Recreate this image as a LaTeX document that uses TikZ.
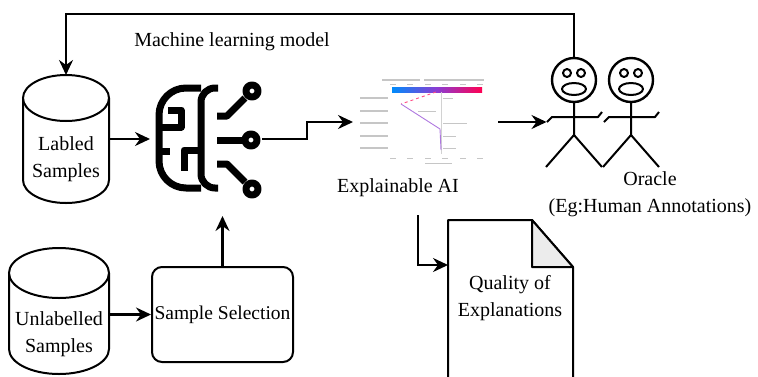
\documentclass[tikz,border=0pt]{standalone}
\usepackage{fontspec}
\setmainfont{Liberation Serif}
\usetikzlibrary{arrows.meta}

\definecolor{shapblue}{RGB}{0,139,251}
\definecolor{shappurple}{RGB}{140,60,210}
\definecolor{shapred}{RGB}{255,0,82}

\begin{document}
\begin{tikzpicture}[x=1pt,y=1pt,
        flow/.style={line width=2.2pt,-{Stealth[length=15pt,width=14pt,inset=5pt]}},
        area/.style={inner sep=0pt,outer sep=0pt},
        txt/.style={align=center,inner sep=0pt,font=\fontsize{20}{27}\selectfont},
        db/.style={line width=2pt,fill=white},
        stick/.style={line width=2pt,line join=round},
        synapse/.style={line width=7pt,line join=round},
        ghost/.style={gray!45,line width=1.3pt}]
    \useasboundingbox (0,0) rectangle (758,-376);

    % labelled data store
    \node[area,minimum width=86pt,minimum height=128pt] (labeled) at (66,-139) {};
    \draw[db] (23,-98) -- (23,-180) arc[start angle=180,end angle=360,x radius=43,y radius=23] -- (109,-98);
    \draw[db] (66,-98) ellipse [x radius=43,y radius=23];
    \node[txt] (labtext) at (66,-159) {Labled\\Samples};

    % unlabelled data store
    \node[area,minimum width=100pt,minimum height=126pt] (unlabeled) at (59,-311) {};
    \draw[db] (9,-273) -- (9,-349) arc[start angle=180,end angle=360,x radius=50,y radius=25] -- (109,-273);
    \draw[db] (59,-273) ellipse [x radius=50,y radius=25];
    \node[txt] (unlabtext) at (59,-334) {Unlabelled\\Samples};

    \node[draw,line width=2pt,rounded corners=10pt,minimum width=141pt,minimum height=95pt,
        txt,font=\fontsize{19.5}{27}\selectfont] (select) at (222.5,-314.5) {Sample Selection};

    % model icon
    \node[area,minimum width=112pt,minimum height=132pt] (model) at (206,-150) {};
    \draw[synapse,rounded corners=27pt] (201,-88) -- (159,-88) -- (159,-188) -- (201,-188);
    \draw[synapse,rounded corners=14pt] (218,-88) -- (201,-88) -- (201,-188) -- (218,-188);
    \draw[synapse] (168,-110) -- (181,-110) -- (181,-127) -- (159,-127);
    \draw[synapse] (159,-151) -- (170,-151);
    \draw[synapse] (201,-150) -- (184,-150) -- (184,-171);
    \draw[synapse] (217,-116) -- (227,-116) -- (245,-98);
    \draw[synapse] (252,-91) circle (6);
    \draw[synapse] (217,-140) -- (244,-140);
    \draw[synapse] (251,-140) circle (6);
    \draw[synapse] (217,-164) -- (227,-164) -- (245,-182);
    \draw[synapse] (252,-189) circle (6);
    \node[txt] (mllabel) at (232,-42) {Machine learning model};

    % explanation plot
    \node[area,minimum width=145pt,minimum height=88pt] (xai) at (425.5,-122) {};
    \draw[ghost] (382,-80) -- (420,-80) (424,-80) -- (484,-80);
    \foreach \tx in {393,410,428,445,463,480}
        \draw[ghost,line width=1pt] (\tx-3,-84) -- (\tx+3,-84) (\tx-3,-158) -- (\tx+3,-158);
    \shade[left color=shapblue,right color=shapred,middle color=shappurple] (392,-87) rectangle (482,-92);
    \draw[gray!35,line width=0.6pt] (441,-92) -- (441,-154);
    \foreach \fy/\va/\vb in {98/443/453,111/418/436,123/443/467,136/443/456,148/443/456} {
        \draw[ghost] (360,-\fy) -- (388,-\fy);
        \draw[ghost,line width=1pt] (\va,-\fy) -- (\vb,-\fy);
    }
    \draw[shapred!70,line width=0.9pt,dashed] (436,-92) -- (401,-104);
    \draw[shappurple!70,line width=0.9pt] (401,-104) -- (440,-129) -- (441,-150);
    \draw[ghost,line width=1pt] (425,-163) -- (452,-163);
    \node[txt] (xailabel) at (398,-188) {Explainable AI};

    % oracles
    \foreach \hx/\i in {574/1,631/2} {
        \node[area,minimum width=55pt,minimum height=109pt] (actor\i) at (\hx,-112.5) {};
        \draw[stick,line width=2.4pt] (\hx,-80) circle (22);
        \draw[stick] (\hx-7,-73) circle (4) (\hx+7,-73) circle (4);
        \draw[stick] (\hx,-89) ellipse [x radius=12,y radius=6];
        \draw[stick] (\hx,-102) -- (\hx,-135) -- (\hx-28,-167) (\hx,-135) -- (\hx+28,-167);
        \draw[stick] (\hx-27,-122) -- (\hx-22,-117) -- (\hx+24,-117) -- (\hx+28,-112);
    }
    \node[txt] (oracle) at (650,-194) {Oracle\\(Eg:Human Annotations)};

    % report
    \node[area,minimum width=125pt,minimum height=160pt] (quality) at (510.5,-300) {};
    \draw[line width=2pt,line join=round,fill=white] (448,-220) -- (532,-220) -- (573,-267) -- (573,-380) -- (448,-380) -- cycle;
    \draw[line width=2pt,line join=round,fill=gray!15] (532,-220) -- (532,-267) -- (573,-267) -- cycle;
    \node[txt] (qtext) at (510,-298) {Quality of\\Explanations};

    % connectors
    \coordinate (loop) at (0,-14);
    \coordinate (xaiout) at (418,-215);
    \draw[flow] (actor1.north) -- (actor1.north |- loop) -- (labeled.north |- loop) -- (labeled.north);
    \draw[flow] (labeled.east) -- (labeled.east -| model.west);
    \draw[flow] (model.east |- labeled.east) -- ++(45,0) |- (xai.west);
    \draw[flow] (xai.east) -- (xai.east -| actor1.west);
    \draw[flow] (xaiout) |- (quality.west |- 0,-265);
    \draw[flow] (select.west -| unlabeled.east) -- (select.west);
    \draw[flow] (select.north) -- (select.north |- model.south);
\end{tikzpicture}
\end{document}
